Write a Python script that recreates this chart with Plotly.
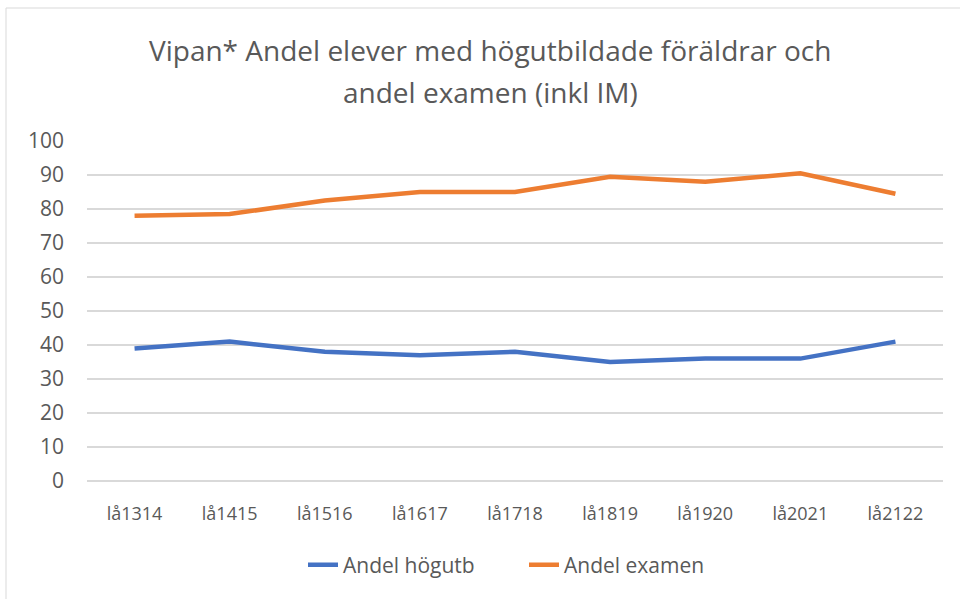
import plotly.graph_objects as go

categories = ["lå1314", "lå1415", "lå1516", "lå1617", "lå1718", "lå1819", "lå1920", "lå2021", "lå2122"]
hogutb = [39, 41, 38, 37, 38, 35, 36, 36, 41]
examen = [78, 78.5, 82.5, 85, 85, 89.5, 88, 90.5, 84.5]
title_lines = ["Vipan* Andel elever med högutbildade föräldrar och", "andel examen (inkl IM)"]

font = "Open Sans"
fig = go.Figure()
fig.add_trace(go.Scatter(x=categories, y=hogutb, mode="lines", name="Andel högutb",
                         line=dict(color="#4472C4", width=4.5)))
fig.add_trace(go.Scatter(x=categories, y=examen, mode="lines", name="Andel examen",
                         line=dict(color="#ED7D31", width=4.5)))

W, H = 960, 599
L, R, T, B = 87, 17, 141, 118
pw, ph = W - L - R, H - T - B

def px(x):
    return (x - L) / pw

def py(y):
    return (H - B - y) / ph

fig.add_shape(type="rect", xref="paper", yref="paper",
              x0=px(6), x1=px(965), y0=py(604), y1=py(8),
              line=dict(color="#D9D9D9", width=1), fillcolor="rgba(0,0,0,0)", layer="below")

for line, yc in zip(title_lines, [50, 92]):
    fig.add_annotation(text=line, xref="paper", yref="paper", x=px(490), y=py(yc),
                       xanchor="center", yanchor="middle", showarrow=False,
                       font=dict(family=font, size=28, color="#595959"))

fig.update_layout(
    width=W, height=H,
    margin=dict(l=L, r=R, t=T, b=B),
    paper_bgcolor="white", plot_bgcolor="white",
    font=dict(family=font, color="#595959", size=19),
    xaxis=dict(type="category", range=[-0.5, 8.5], showgrid=False, showline=False,
               ticks="", tickfont=dict(size=18), ticklabelstandoff=20),
    yaxis=dict(range=[0, 100], dtick=10, showgrid=True, gridcolor="#D9D9D9", gridwidth=1.5,
               zeroline=True, zerolinecolor="#D9D9D9", zerolinewidth=1.5, showline=False,
               tickfont=dict(size=21), ticklabelstandoff=22),
    legend=dict(orientation="h", x=px(303), xanchor="left", y=py(565), yanchor="middle",
                font=dict(size=21), tracegroupgap=0, entrywidth=176, entrywidthmode="pixels"),
    showlegend=True,
)

fig.write_html("out.html", config={"displayModeBar": False},
               post_script="document.body.style.margin='0';")
